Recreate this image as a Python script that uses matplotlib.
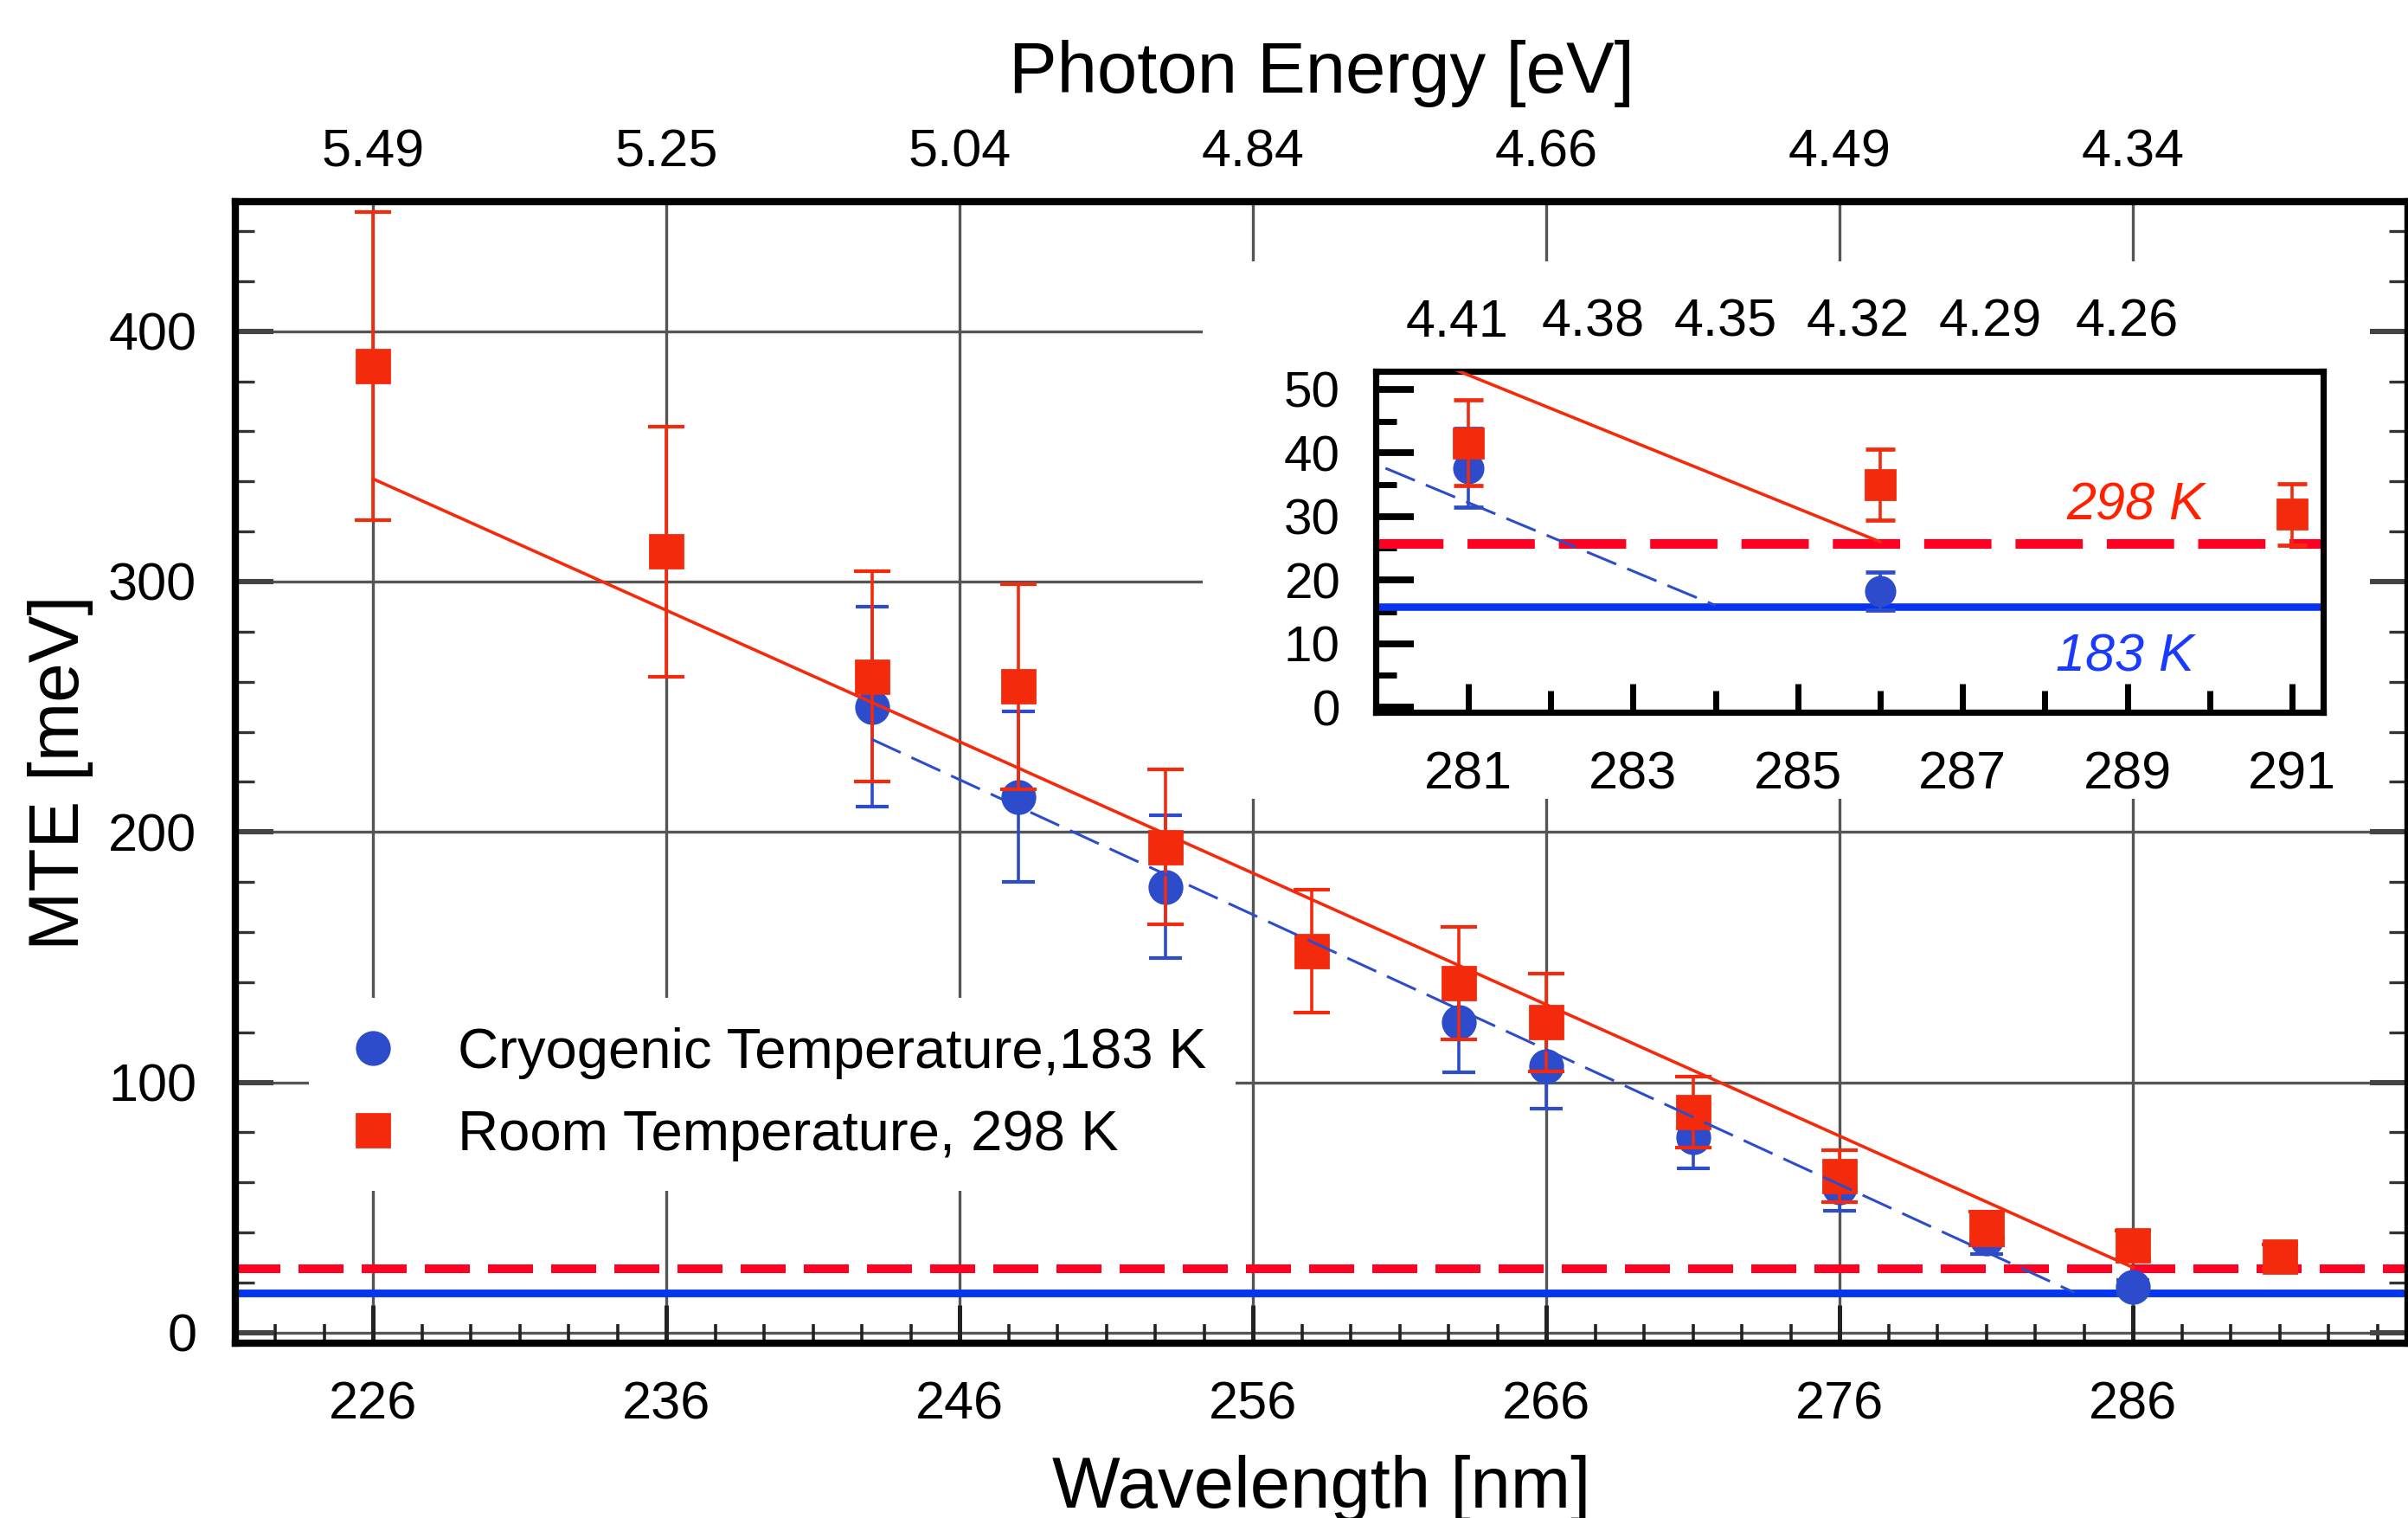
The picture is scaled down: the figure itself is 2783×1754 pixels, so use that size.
import numpy as np
import matplotlib
matplotlib.use('Agg')
import matplotlib.pyplot as plt
from matplotlib.lines import Line2D
from matplotlib.patches import Rectangle
from matplotlib.ticker import FixedLocator

plt.rcParams['font.family'] = ['Liberation Sans', 'DejaVu Sans']

# ---------------- data ----------------
# Room temperature, 298 K (red squares)
wl_room = [226, 236, 243, 248, 253, 258, 263, 266, 271, 276, 281, 286, 291]
mte_room = [386, 312, 262, 258, 194, 152.5, 139.5, 124, 88, 62.5, 41.6, 35, 30.3]
err_room = [61.5, 50, 42, 41, 31, 24.5, 22.5, 19.5, 14.2, 10.4, 6.7, 5.6, 4.9]

# Cryogenic temperature, 183 K (blue circles)
wl_cryo = [243, 248, 253, 263, 266, 271, 276, 281, 286]
mte_cryo = [250, 214, 178, 124, 106.5, 78, 58, 37.6, 18.2]
err_cryo = [40, 34, 28.5, 20, 17, 12.5, 9.3, 6.2, 3]

# linear fits and thermal limits
fit_room_wl = [226, 286]
fit_room_mte = [341, 26]
fit_cryo_wl = [243, 284]
fit_cryo_mte = [237, 16]
limit_room = 25.7
limit_cryo = 15.8

# tick labels
wl_major = [226, 236, 246, 256, 266, 276, 286]
energy_top = ['5.49', '5.25', '5.04', '4.84', '4.66', '4.49', '4.34']
inset_wl_major = [281, 283, 285, 287, 289, 291]
inset_wl_minor = [282, 284, 286, 288, 290]
inset_top_pos = [280.87, 282.52, 284.12, 285.73, 287.34, 289.0]
inset_energy_top = ['4.41', '4.38', '4.35', '4.32', '4.29', '4.26']

label_cryo = 'Cryogenic Temperature,183 K'
label_room = 'Room Temperature, 298 K'

# ---------------- styles ----------------
RED = '#f42a0c'
BLUE = '#2c4ccc'
RED_DASH = '#ff0022'
BLUE_LINE = '#0535f0'

W, H = 2783, 1754
DPI = 200
fig = plt.figure(figsize=(W / DPI, H / DPI), dpi=DPI)

def fx(px):
    return px / W

def fy(py):
    return 1 - py / H

main_rect = [fx(271.6), fy(1552), (W - 271.6) / W, (1552 - 233) / H]
xlim = (221.29, 295.37)
ylim = (-4.2, 451.75)

# background axes: grid + white area behind the inset
axg = fig.add_axes(main_rect, zorder=0)
axg.set_xlim(xlim)
axg.set_ylim(ylim)
axg.set_xticks(wl_major)
axg.set_yticks([0, 100, 200, 300, 400])
axg.set_axisbelow(True)
axg.grid(True, color='#555555', lw=1.2)
axg.tick_params(length=0, labelbottom=False, labelleft=False)
for s in axg.spines.values():
    s.set_visible(False)
axg.add_patch(Rectangle((fx(1390), fy(923)), (W - 1390) / W, (923 - 302) / H,
                        transform=fig.transFigure, fc='white', ec='none', zorder=1))

# main axes
ax = fig.add_axes(main_rect, zorder=1)
ax.patch.set_visible(False)
ax.errorbar(wl_cryo, mte_cryo, yerr=err_cryo, fmt='o', color=BLUE, ms=13.5, mec=BLUE,
            elinewidth=1.3, capsize=7, capthick=1.5, zorder=3)
ax.errorbar(wl_room, mte_room, yerr=err_room, fmt='s', color=RED, ms=13.4, mec=RED,
            elinewidth=1.3, capsize=7.4, capthick=1.5, zorder=3.2)
ax.plot(fit_cryo_wl, fit_cryo_mte, color=BLUE, lw=1.1, dashes=(12, 4.5), zorder=4)
ax.plot(fit_room_wl, fit_room_mte, color=RED, lw=1.3, zorder=4)
ax.axhline(limit_room, color=RED_DASH, lw=3.6, dashes=(5.2, 2.1), zorder=2.5)
ax.axhline(limit_cryo, color=BLUE_LINE, lw=3.2, zorder=2.5)

ax.set_xlim(xlim)
ax.set_ylim(ylim)
ax.xaxis.set_major_locator(FixedLocator(wl_major))
ax.xaxis.set_minor_locator(FixedLocator([226 + k * 10 / 6 for k in range(-3, 42)]))
ax.yaxis.set_major_locator(FixedLocator([0, 100, 200, 300, 400]))
ax.yaxis.set_minor_locator(FixedLocator(np.arange(0, 460, 20)))
ax.tick_params(axis='x', which='major', direction='in', length=16, width=1.8, color='#222222',
               top=True, bottom=True, labelsize=22, pad=15.5)
ax.tick_params(axis='x', which='minor', direction='in', length=8, width=1.3, color='#222222', top=True)
ax.tick_params(axis='y', which='major', direction='in', length=16, width=2.2, color='#444444',
               left=True, right=True, labelsize=22, pad=16)
ax.tick_params(axis='y', which='minor', direction='in', length=8, width=1.2, color='#333333', right=True)
for s in ax.spines.values():
    s.set_linewidth(3)
ax.set_xlabel('Wavelength [nm]', fontsize=30, labelpad=10.5)
ax.set_ylabel('MTE [meV]', fontsize=29.5, labelpad=6)

handles = [Line2D([], [], ls='none', marker='o', ms=13.5, mec=BLUE, color=BLUE),
           Line2D([], [], ls='none', marker='s', ms=13.4, mec=RED, color=RED)]
leg = ax.legend(handles, [label_cryo, label_room], loc='upper left',
                bbox_to_anchor=(fx(357), fy(1153)), bbox_transform=fig.transFigure,
                borderaxespad=0, fontsize=23.5, frameon=True, fancybox=False,
                facecolor='white', edgecolor='none', framealpha=1,
                borderpad=0.52, labelspacing=0.54, handlelength=1.22, handletextpad=0.89)

# top axis: photon energy
ax_top = ax.twiny()
ax_top.set_zorder(2)
ax_top.set_xlim(xlim)
ax_top.set_xticks(wl_major)
ax_top.set_xticklabels(energy_top)
ax_top.tick_params(axis='x', length=0, labelsize=22, pad=10)
for s in ax_top.spines.values():
    s.set_visible(False)
ax_top.set_xlabel('Photon Energy [eV]', fontsize=30, labelpad=15)

# ---------------- inset ----------------
inset_rect = [fx(1590.3), fy(823.2), (2684.7 - 1590.3) / W, (823.2 - 429.4) / H]
axi = fig.add_axes(inset_rect, zorder=3)
axi.set_facecolor('white')
axi.errorbar(wl_cryo, mte_cryo, yerr=err_cryo, fmt='o', color=BLUE, ms=12, mec=BLUE,
             elinewidth=1.3, capsize=6, capthick=1.7, zorder=3)
axi.errorbar(wl_room, mte_room, yerr=err_room, fmt='s', color=RED, ms=12, mec=RED,
             elinewidth=1.3, capsize=6, capthick=1.7, zorder=3.2)
axi.plot(fit_cryo_wl, fit_cryo_mte, color=BLUE, lw=1.1, dashes=(12, 4.5), zorder=4)
axi.plot(fit_room_wl, fit_room_mte, color=RED, lw=1.3, zorder=4)
axi.axhline(limit_room, color=RED_DASH, lw=4, dashes=(7, 2.5), zorder=2.5)
axi.axhline(limit_cryo, color=BLUE_LINE, lw=3.1, zorder=2.5)
axi.text(289.1, 31.6, '298 K', color='#ff2000', fontsize=22, style='italic',
         ha='center', va='center')
axi.text(288.97, 7.7, '183 K', color='#1a3aff', fontsize=22, style='italic',
         ha='center', va='center')

axi.set_xlim(279.88, 291.375)
axi.set_ylim(-0.84, 52.78)
axi.xaxis.set_major_locator(FixedLocator(inset_wl_major))
axi.xaxis.set_minor_locator(FixedLocator(inset_wl_minor))
axi.yaxis.set_major_locator(FixedLocator([0, 10, 20, 30, 40, 50]))
axi.yaxis.set_minor_locator(FixedLocator([5, 15, 25, 35, 45]))
axi.tick_params(axis='x', which='major', direction='in', length=12, width=2.5, top=True,
                labelsize=22, pad=16)
axi.tick_params(axis='x', which='minor', direction='in', length=9, width=2.5, top=True)
axi.tick_params(axis='y', which='major', direction='in', length=16, width=2.8,
                labelsize=21, pad=15)
axi.tick_params(axis='y', which='minor', direction='in', length=8.5, width=2.5)
for s in axi.spines.values():
    s.set_linewidth(2.6)

axit = axi.twiny()
axit.set_zorder(4)
axit.set_xlim(axi.get_xlim())
axit.set_xticks(inset_top_pos)
axit.set_xticklabels(inset_energy_top)
axit.tick_params(axis='x', length=0, labelsize=22, pad=9.9)
for s in axit.spines.values():
    s.set_visible(False)

fig.savefig('out.png', dpi=DPI)
